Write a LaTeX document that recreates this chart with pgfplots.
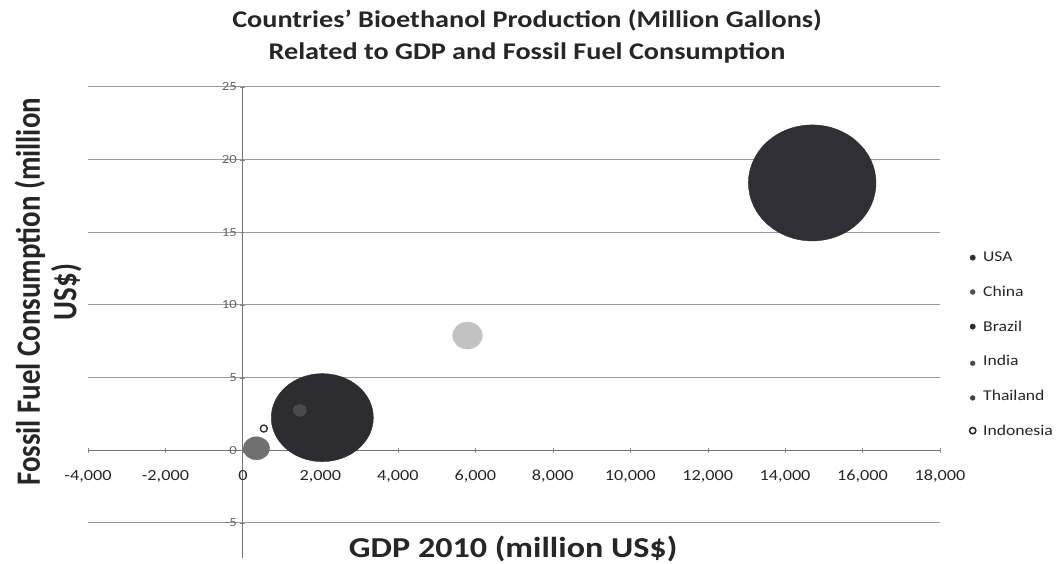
\documentclass[border=0pt]{standalone}
\usepackage{pgfplots}
\pgfplotsset{compat=1.18}
\usepackage{fontspec}
\setmainfont{Carlito}[FakeStretch=1.18]
\newfontfamily\plainfont{Carlito}
\definecolor{usa}{HTML}{2F2F35}
\definecolor{china}{HTML}{C2C2C2}
\definecolor{brazil}{HTML}{2C2C31}
\definecolor{india}{HTML}{4A4A4E}
\definecolor{thai}{HTML}{707072}
\definecolor{gridc}{HTML}{9A9A9A}
\begin{document}
\begin{tikzpicture}
\useasboundingbox (0,0) rectangle (1062bp,564bp);
\node[anchor=base, font=\bfseries\fontsize{24}{28}\selectfont, text=black!85] at (527bp,536bp)
  {Countries' Bioethanol Production (Million Gallons)};
\node[anchor=base, font=\bfseries\fontsize{24}{28}\selectfont, text=black!85] at (527bp,504bp)
  {Related to GDP and Fossil Fuel Consumption};
\begin{axis}[
  at={(88bp,41bp)}, anchor=south west,
  scale only axis, width=852bp, height=436bp,
  xmin=-4000, xmax=18000, ymin=-5, ymax=25,
  axis lines=middle,
  axis line style={-, draw=black!55, line width=0.9bp},
  y axis line style={shorten <=-35bp},
  hide obscured x ticks=false, hide obscured y ticks=false,
  scaled x ticks=false,
  xtick={-4000,-2000,0,2000,4000,6000,8000,10000,12000,14000,16000,18000},
  xticklabels={{-4,000},{-2,000},{0},{2,000},{4,000},{6,000},{8,000},{10,000},{12,000},{14,000},{16,000},{18,000}},
  ytick={-5,0,5,10,15,20,25},
  yticklabels={{-5},{0},{5},{10},{15},{20},{25}},
  tick align=center, major tick length=5bp,
  tick style={draw=black!45},
  xticklabel style={font=\fontsize{15.5}{18}\selectfont, text=black!85, yshift=-14bp},
  yticklabel style={font=\fontsize{12.5}{15}\selectfont, text=black!60},
  ymajorgrids, major grid style={draw=gridc, line width=1bp},
  clip=false,
  every axis x label/.style={at={(axis description cs:0.499,-0.080)}, anchor=base},
  every axis y label/.style={at={(axis description cs:-0.047,0.53)}, rotate=90, yscale=1.18, anchor=center},
  xlabel={GDP 2010 (million US\$)},
  ylabel={Fossil Fuel Consumption (million\\US\$)},
  xlabel style={font=\bfseries\fontsize{29}{32}\selectfont, text=black!85},
  ylabel style={font=\plainfont\bfseries\fontsize{29}{31}\selectfont, text=black!85, align=center},
  legend style={at={(axis description cs:1.03,0.631)}, anchor=north west, draw=none, fill=none,
    font=\fontsize{15}{17}\selectfont, row sep=18.8bp, text=black!85},
  legend cell align=left,
]
\addplot[only marks, mark=*, mark size=58bp, draw=usa, fill=usa,
  every mark/.append style={xscale=1.1},
  legend image code/.code={\path[draw=none,fill=none] (0,0) -- (1.05em,0); \fill[usa] (0.2em,0) circle (2.7bp);}]
  coordinates {(14700,18.4)};
\addlegendentry{USA}
\addplot[only marks, mark=*, mark size=13.5bp, draw=china, fill=china,
  every mark/.append style={xscale=1.1},
  legend image code/.code={\path[draw=none,fill=none] (0,0) -- (0.75em,0); \fill[china!40!black] (0.2em,0) circle (2.5bp);}]
  coordinates {(5800,7.9)};
\addlegendentry{China}
\addplot[only marks, mark=*, mark size=44bp, draw=brazil, fill=brazil,
  every mark/.append style={xscale=1.16},
  legend image code/.code={\path[draw=none,fill=none] (0,0) -- (0.75em,0); \fill[brazil] (0.2em,0) circle (2.7bp);}]
  coordinates {(2050,2.25)};
\addlegendentry{Brazil}
\addplot[only marks, mark=*, mark size=6bp, draw=india, fill=india,
  every mark/.append style={xscale=1.1},
  legend image code/.code={\path[draw=none,fill=none] (0,0) -- (0.6em,0); \fill[india] (0.2em,-2bp) circle (2.4bp);}]
  coordinates {(1470,2.75)};
\addlegendentry{India}
\addplot[only marks, mark=*, mark size=11.5bp, draw=thai, fill=thai,
  every mark/.append style={xscale=1.15},
  legend image code/.code={\path[draw=none,fill=none] (0,0) -- (0.75em,0); \fill[thai!60!black] (0.2em,-2bp) circle (2.4bp);}]
  coordinates {(350,0.14)};
\addlegendentry{Thailand}
\addplot[only marks, mark=o, mark size=3.5bp, draw=black!80, line width=1.4bp,
  legend image code/.code={\path[draw=none,fill=none] (0,0) -- (0.55em,0); \draw[black!85, line width=1.5bp, fill=none] (0.2em,0) circle (3.2bp);}]
  coordinates {(540,1.5)};
\addlegendentry{Indonesia}
\end{axis}
\end{tikzpicture}
\end{document}
